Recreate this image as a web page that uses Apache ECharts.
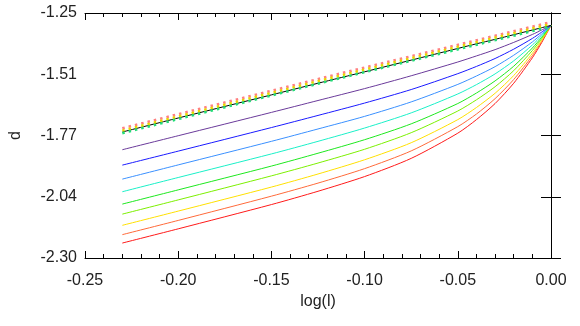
<!DOCTYPE html>
<html>
<head>
<meta charset="utf-8">
<script src="https://cdn.jsdelivr.net/npm/echarts@6/dist/echarts.min.js"></script>
<style>
  html, body { margin: 0; padding: 0; background: #fff; }
  #chart { width: 580px; height: 326px; }
</style>
</head>
<body>
<div id="chart"></div>
<script>
var xValues = [-0.23, -0.20, -0.15, -0.125, -0.10, -0.075, -0.05, -0.04, -0.03, -0.02, -0.01, -0.005, 0];

var blackLine = [-1.760, -1.700, -1.601, -1.551, -1.502, -1.452, -1.402, -1.382, -1.363, -1.343, -1.323, -1.313, -1.303];
var purpleLine = [-1.836, -1.776, -1.676, -1.625, -1.574, -1.519, -1.460, -1.434, -1.407, -1.376, -1.342, -1.323, -1.303];
var blueLine = [-1.902, -1.842, -1.741, -1.689, -1.636, -1.578, -1.510, -1.479, -1.445, -1.405, -1.359, -1.332, -1.303];
var skyLine = [-1.962, -1.901, -1.800, -1.747, -1.693, -1.631, -1.556, -1.520, -1.480, -1.431, -1.374, -1.340, -1.303];
var cyanLine = [-2.016, -1.955, -1.854, -1.800, -1.743, -1.678, -1.597, -1.557, -1.511, -1.455, -1.387, -1.347, -1.303];
var greenLine = [-2.069, -2.008, -1.906, -1.851, -1.793, -1.725, -1.638, -1.593, -1.541, -1.478, -1.400, -1.354, -1.303];
var limeLine = [-2.112, -2.051, -1.948, -1.893, -1.834, -1.763, -1.670, -1.622, -1.566, -1.497, -1.411, -1.360, -1.303];
var yellowLine = [-2.160, -2.099, -1.996, -1.940, -1.879, -1.806, -1.707, -1.655, -1.594, -1.518, -1.423, -1.367, -1.303];
var orangeLine = [-2.200, -2.139, -2.035, -1.979, -1.917, -1.841, -1.737, -1.683, -1.617, -1.535, -1.433, -1.372, -1.303];
var redLine = [-2.236, -2.175, -2.071, -2.014, -1.951, -1.873, -1.765, -1.707, -1.638, -1.551, -1.442, -1.377, -1.303];

// dotted lines sitting on the black one
var dotX = [-0.23, -0.115, 0];
var redDots = [-1.744, -1.513, -1.289];
var yellowDots = [-1.754, -1.522, -1.297];
var greenDots = [-1.765, -1.533, -1.308];

var xTickLabels = ['-0.25', '-0.20', '-0.15', '-0.10', '-0.05', '0.00'];
var yTickLabels = ['-2.30', '-2.04', '-1.77', '-1.51', '-1.25'];
var xMin = -0.25, xStep = 0.05;
var yMin = -2.30, yStep = 0.2625;

function pairs(xs, ys) {
  var out = [];
  for (var i = 0; i < xs.length; i++) out.push([xs[i], ys[i]]);
  return out;
}

function solid(name, color, data) {
  return {
    name: name,
    type: 'line',
    data: pairs(xValues, data),
    smooth: 0.25,
    symbol: 'none',
    lineStyle: { color: color, width: 1 }
  };
}

function dotted(name, color, data) {
  return {
    name: name,
    type: 'line',
    data: pairs(dotX, data),
    symbol: 'none',
    lineStyle: { color: color, width: 2.5, type: [2.5, 4] }
  };
}

var font = 'Liberation Sans';

var option = {
  animation: false,
  grid: { left: 79, right: 29, top: 13, bottom: 68 },
  xAxis: [
    {
      type: 'value',
      position: 'bottom',
      min: xMin,
      max: 0,
      interval: xStep,
      name: 'log(l)',
      nameLocation: 'middle',
      nameGap: 29,
      nameTextStyle: { fontFamily: font, fontSize: 16, color: '#222' },
      axisLine: { lineStyle: { color: '#000', width: 1 } },
      axisTick: { inside: true, length: 7, lineStyle: { color: '#000' } },
      minorTick: { show: true, splitNumber: 5, length: 4, lineStyle: { color: '#000' } },
      splitLine: { show: false },
      axisLabel: {
        fontFamily: font,
        fontSize: 16,
        color: '#222',
        margin: 15,
        formatter: function (v) {
          return xTickLabels[Math.round((v - xMin) / xStep)];
        }
      }
    },
    {
      type: 'value',
      position: 'top',
      min: xMin,
      max: 0,
      interval: xStep,
      axisLine: { lineStyle: { color: '#000', width: 1 } },
      axisTick: { inside: true, length: 7, lineStyle: { color: '#000' } },
      minorTick: { show: true, splitNumber: 5, length: 4, lineStyle: { color: '#000' } },
      splitLine: { show: false },
      axisLabel: { show: false }
    }
  ],
  yAxis: [
    {
      type: 'value',
      position: 'left',
      min: yMin,
      max: -1.25,
      interval: yStep,
      name: 'd',
      nameLocation: 'middle',
      nameGap: 61,
      nameRotate: 90,
      nameTextStyle: { fontFamily: font, fontSize: 16, color: '#222' },
      axisLine: { show: true, lineStyle: { color: '#000', width: 1 } },
      axisTick: { show: true, inside: true, length: 10, lineStyle: { color: '#000' } },
      splitLine: { show: false },
      axisLabel: {
        fontFamily: font,
        fontSize: 16,
        color: '#222',
        margin: 8,
        formatter: function (v) {
          return yTickLabels[Math.round((v - yMin) / yStep)];
        }
      }
    },
    {
      type: 'value',
      position: 'right',
      min: yMin,
      max: -1.25,
      interval: yStep,
      axisLine: { show: true, lineStyle: { color: '#000', width: 1 } },
      axisTick: { show: true, inside: true, length: 10, lineStyle: { color: '#000' } },
      splitLine: { show: false },
      axisLabel: { show: false }
    }
  ],
  series: [
    solid('red', '#ff1a1a', redLine),
    solid('orange', '#ff6a3a', orangeLine),
    solid('yellow', '#ffe000', yellowLine),
    solid('lime', '#7cf000', limeLine),
    solid('green', '#1ee81e', greenLine),
    solid('cyan', '#1af0c8', cyanLine),
    solid('sky', '#3a90ff', skyLine),
    solid('blue', '#1a1aff', blueLine),
    solid('purple', '#6a3a9a', purpleLine),
    solid('black', '#000000', blackLine),
    dotted('redDots', '#ff8080', redDots),
    dotted('yellowDots', '#e8d800', yellowDots),
    dotted('greenDots', '#22dd77', greenDots)
  ]
};

var chart = echarts.init(document.getElementById('chart'), null, { renderer: 'canvas' });
chart.setOption(option);
</script>
</body>
</html>
